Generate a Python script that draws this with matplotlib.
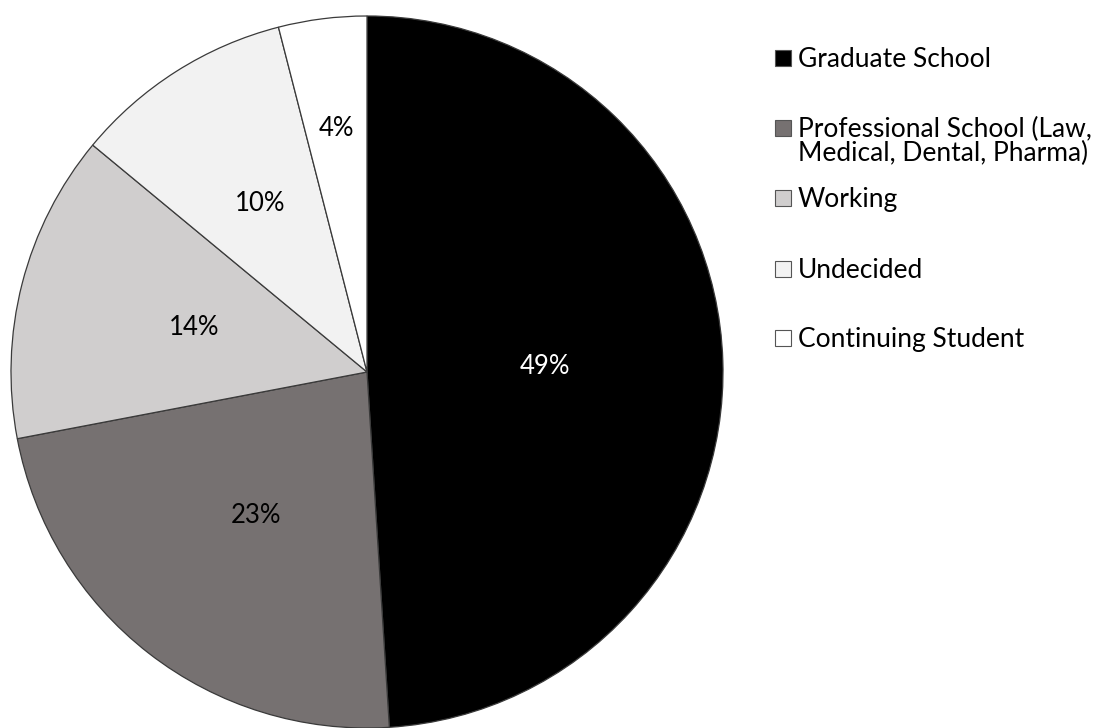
import matplotlib.pyplot as plt
import numpy as np
from matplotlib.patches import Rectangle

categories = ['Graduate School', 'Professional School (Law,\nMedical, Dental, Pharma)',
              'Working', 'Undecided', 'Continuing Student']
shares = [49, 23, 14, 10, 4]
colors = ['#000000', '#767171', '#d0cece', '#f2f2f2', '#ffffff']
label_colors = ['white', 'black', 'black', 'black', 'black']
label_dist = [0.50, 0.51, 0.50, 0.56, 0.69]

plt.rcParams['font.family'] = ['Lato', 'DejaVu Sans']

fig = plt.figure(figsize=(11.04, 7.28), dpi=100)
W, H = 1104, 728
cx, cy, r = 367, 372, 356
ax = fig.add_axes([(cx - r) / W, (H - cy - r) / H, 2 * r / W, 2 * r / H])

wedges, _ = ax.pie(shares, colors=colors, startangle=90, counterclock=False,
                   wedgeprops=dict(edgecolor='#3a3a3a', linewidth=0.9))
ax.set_xlim(-1, 1)
ax.set_ylim(-1, 1)
ax.set_aspect('auto')
ax.axis('off')

# percentage labels
total = sum(shares)
cum = 0
for s, d, c in zip(shares, label_dist, label_colors):
    mid = 90 - (cum + s / 2) / total * 360
    cum += s
    ang = np.deg2rad(mid)
    ax.text(d * np.cos(ang), d * np.sin(ang), f'{s}%', ha='center', va='center',
            fontsize=18.5, color=c)

# legend drawn by hand to keep the even row spacing
row_y = [58, 128, 198, 269, 338]
line_gap = 24
for lab, col, y in zip(categories, colors, row_y):
    fig.add_artist(Rectangle((775 / W, (H - y - 8) / H), 16 / W, 16 / H,
                             facecolor=col, edgecolor='#555555', linewidth=0.8,
                             transform=fig.transFigure))
    for i, line in enumerate(lab.split('\n')):
        fig.text(798 / W, (H - y - 9 - i * line_gap) / H, line, ha='left',
                 va='baseline', fontsize=19)

fig.savefig('out.png', dpi=100)
